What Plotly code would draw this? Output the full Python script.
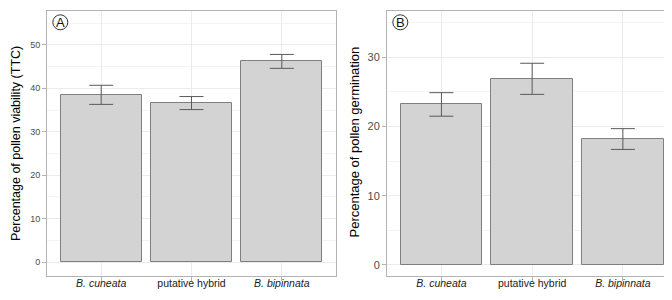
import plotly.graph_objects as go

categories = ["B. cuneata", "putative hybrid", "B. bipinnata"]
tick_labels = ["<i>B. cuneata</i>", "putative hybrid", "<i>B. bipinnata</i>"]
viability = [38.5, 36.6, 46.2]
viability_err = [2.2, 1.5, 1.6]
germination = [23.2, 26.9, 18.2]
germination_err = [1.7, 2.25, 1.5]

W, H = 672, 300
FONT = "Liberation Sans, Arial, sans-serif"
BAR_FILL = "#d3d3d3"
BAR_LINE = "#7f7f7f"
ERR_COL = "#5a5a5a"
GRID = "#ebebeb"
MINOR = "#f4f4f4"
BORDER = "#b3b3b3"

fig = go.Figure()
xs = list(range(len(categories)))

fig.add_trace(go.Bar(
    x=xs, y=viability, width=0.9, xaxis="x", yaxis="y",
    marker=dict(color=BAR_FILL, line=dict(color=BAR_LINE, width=1)),
    error_y=dict(type="data", array=viability_err, color=ERR_COL, thickness=1, width=12),
    showlegend=False, hoverinfo="y"))
fig.add_trace(go.Bar(
    x=xs, y=germination, width=0.9, xaxis="x2", yaxis="y2",
    marker=dict(color=BAR_FILL, line=dict(color=BAR_LINE, width=1)),
    error_y=dict(type="data", array=germination_err, color=ERR_COL, thickness=1, width=12),
    showlegend=False, hoverinfo="y"))

ytop = 1 - 3 / H
ybot = 1 - 267.5 / H

def xax(domain, size, anchor):
    return dict(domain=domain, anchor=anchor, range=[-0.6, 2.6],
                tickmode="array", tickvals=xs, ticktext=tick_labels,
                ticks="outside", ticklen=4, tickcolor=BORDER,
                ticklabelstandoff=-6,
                tickfont=dict(family=FONT, size=size, color="#1a1a1a"),
                showgrid=True, gridcolor=GRID, gridwidth=1,
                showline=True, mirror=True, linecolor=BORDER, linewidth=1,
                zeroline=False, fixedrange=True)

def yax(rng, size, anchor):
    return dict(domain=[ybot, ytop], anchor=anchor, range=rng,
                tickmode="array", tickvals=[0, 10, 20, 30, 40, 50],
                ticks="outside", ticklen=4, tickcolor=BORDER,
                tickfont=dict(family=FONT, size=size, color="#4d4d4d"),
                showgrid=True, gridcolor=GRID, gridwidth=1,
                minor=dict(tickvals=[5, 15, 25, 35, 45, 55], showgrid=True, gridcolor=MINOR, ticks=""),
                showline=True, mirror=True, linecolor=BORDER, linewidth=1,
                zeroline=False, fixedrange=True)

fig.update_layout(
    width=W, height=H, margin=dict(l=0, r=0, t=0, b=0),
    paper_bgcolor="white", plot_bgcolor="white", bargap=0,
    xaxis=xax([39 / W, 328 / W], 10.5, "y"),
    yaxis=yax([-3.1, 57.8], 9, "x"),
    xaxis2=xax([379 / W, 669.3 / W], 10.5, "y2"),
    yaxis2=yax([-1.52, 36.7], 11, "x2"),
)

# y-axis titles
fig.add_annotation(xref="paper", yref="paper", x=7.5 / W, y=1 - 135.5 / H,
                   text="Percentage of pollen viability (TTC)", textangle=-90,
                   showarrow=False, xanchor="center", yanchor="middle",
                   font=dict(family=FONT, size=12.5, color="#000000"))
fig.add_annotation(xref="paper", yref="paper", x=345.5 / W, y=1 - 134 / H,
                   text="Percentage of pollen germination", textangle=-90,
                   showarrow=False, xanchor="center", yanchor="middle",
                   font=dict(family=FONT, size=13, color="#000000"))

# panel letters in circles
for xr, yr, xa, letter in [("x domain", "y domain", (52.3 - 39) / 289, "A"),
                           ("x2 domain", "y2 domain", (392.3 - 379) / 290.3, "B")]:
    ya = (267.5 - 14.3) / 264.5
    fig.add_shape(type="circle", xref=xr, yref=yr, xsizemode="pixel", ysizemode="pixel",
                  xanchor=xa, yanchor=ya, x0=-7.5, x1=7.5, y0=-7.5, y1=7.5,
                  line=dict(color="#333333", width=1), fillcolor="rgba(0,0,0,0)")
    fig.add_annotation(xref=xr, yref=yr, x=xa, y=ya, text=letter, showarrow=False,
                       font=dict(family=FONT, size=13, color="#111111"),
                       xanchor="center", yanchor="middle")

fig.write_html("out.html")
